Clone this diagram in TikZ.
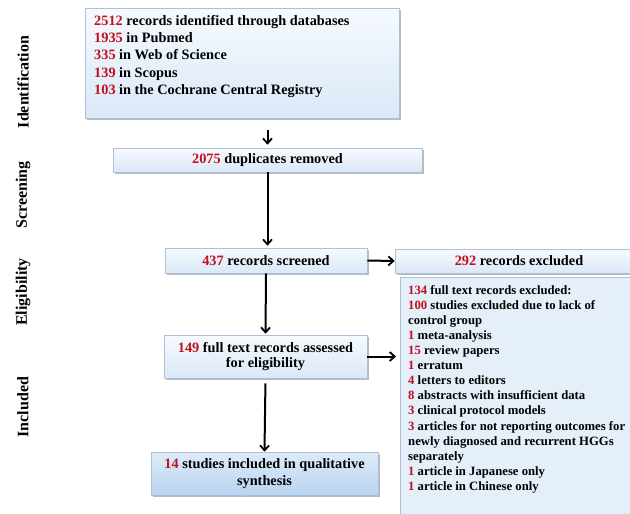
\documentclass[tikz,border=0pt]{standalone}
\usepackage{fontspec}
\setmainfont{Liberation Serif}
\usetikzlibrary{arrows.meta,shadows,calc}
\definecolor{numred}{RGB}{192,16,28}
\definecolor{boxline}{RGB}{172,192,216}
\definecolor{boxtop}{RGB}{246,250,254}
\definecolor{boxbot}{RGB}{218,232,247}
\definecolor{inctop}{RGB}{222,235,248}
\definecolor{incbot}{RGB}{186,212,240}
\definecolor{listfill}{RGB}{228,239,250}
\newcommand{\nm}[1]{\textcolor{numred}{#1}}
\begin{document}
\begin{tikzpicture}[x=1pt,y=-1pt,
  flowbox/.style={draw=boxline, line width=0.6pt, top color=boxtop, bottom color=boxbot,
    drop shadow={shadow xshift=1.5pt, shadow yshift=-2pt, fill=black!45, opacity=0.6},
    inner sep=0pt, align=center, font=\bfseries\fontsize{14.3}{15}\selectfont},
  incbox/.style={flowbox, top color=inctop, bottom color=incbot},
  listbox/.style={draw=boxline, line width=0.6pt, fill=listfill, inner sep=0pt},
  phase/.style={rotate=90, font=\bfseries\fontsize{16}{18}\selectfont},
  flow/.style={line width=2pt, -{Straight Barb[length=5pt,width=9pt,line width=1.8pt]}}
]
\useasboundingbox (0,0) rectangle (630,514);
\clip (0,0) rectangle (630,514);

% phase labels
\node[phase] (pid) at (23,82) {Identification};
\node[phase] (psc) at (23,195) {Screening};
\node[phase] (pel) at (23,292) {Eligibility};
\node[phase] (pin) at (23,407) {Included};

% boxes
\node[flowbox, minimum width=314, minimum height=110] (b1) at (242,63) {};
\node[anchor=north west, align=left, inner sep=0pt,
      font=\bfseries\fontsize{14.3}{17.3}\selectfont] (t1) at (94,15)
  {\nm{2512} records identified through databases\\
   \nm{1935} in Pubmed\\
   \nm{335} in Web of Science\\
   \nm{139} in Scopus\\
   \nm{103} in the Cochrane Central Registry};

\node[flowbox, minimum width=309, minimum height=24] (b2) at (267.5,160)
  {\nm{2075} duplicates removed};

\node[flowbox, minimum width=202, minimum height=25] (b3) at (266,260.5)
  {\nm{437} records screened};

\node[flowbox, minimum width=248, minimum height=24] (b4) at (519,261)
  {\nm{292} records excluded};

\node[listbox, minimum width=260, minimum height=250, anchor=north west] (b5) at (400,277) {};
\node[anchor=north west, align=left, inner sep=0pt,
      font=\bfseries\fontsize{12.7}{15.1}\selectfont] (t5) at (408,285)
  {\nm{134} full text records excluded:\\
   \nm{100} studies excluded due to lack of\\
   control group\\
   \nm{1} meta-analysis\\
   \nm{15} review papers\\
   \nm{1} erratum\\
   \nm{4} letters to editors\\
   \nm{8} abstracts with insufficient data\\
   \nm{3} clinical protocol models\\
   \nm{3} articles for not reporting outcomes for\\
   newly diagnosed and recurrent HGGs\\
   separately\\
   \nm{1} article in Japanese only\\
   \nm{1} article in Chinese only};

\node[flowbox, minimum width=203, minimum height=43] (b6) at (265.5,356.5)
  {\nm{149} full text records assessed\\for eligibility};

\node[incbox, minimum width=227, minimum height=43,
      font=\bfseries\fontsize{14.3}{17}\selectfont] (b7) at (264.5,473.5)
  {\nm{14} studies included in qualitative\\synthesis};

% connectors
\draw[flow, shorten <=12pt, shorten >=3pt] (b2.north |- b1.south) -- (b2.north);
\draw[flow, shorten >=2pt] (b2.south) -- (b2.south |- b3.north);
\draw[flow, shorten >=1pt] (b3.south) -- (b6.north);
\draw[flow, shorten <=5pt] (b6.south) -- (b7.north);
\draw[flow] (b3.east) -- (b4.west);
\draw[flow, shorten >=4pt] (b6.east) -- (b6.east -| b5.west);
\end{tikzpicture}
\end{document}
